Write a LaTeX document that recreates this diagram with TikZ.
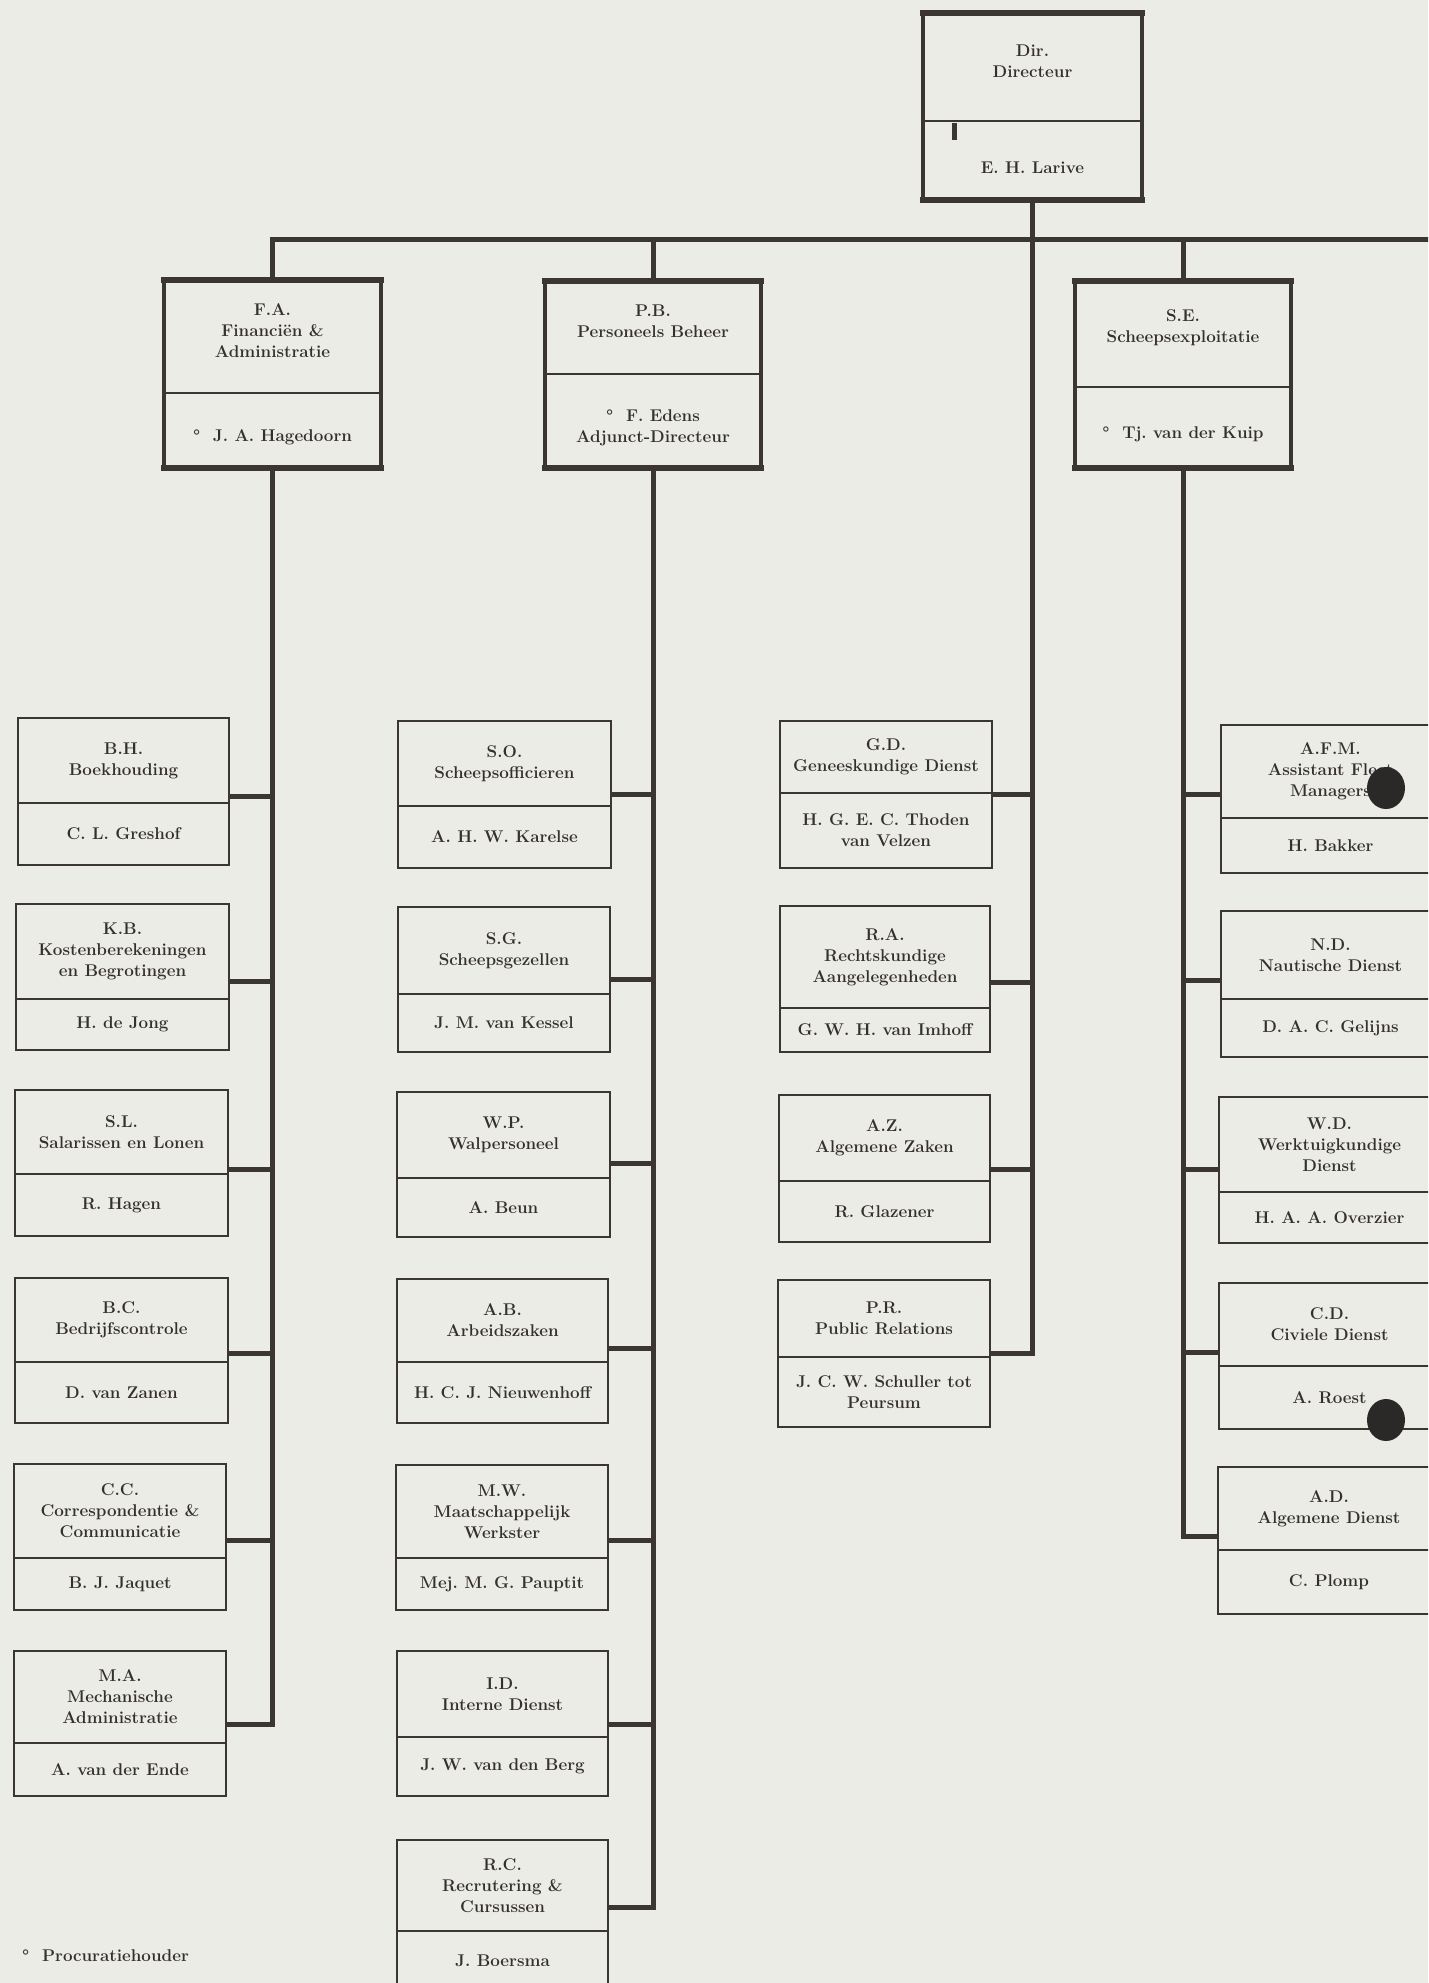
\documentclass[tikz,border=0pt]{standalone}
\usepackage{fontspec}
\usetikzlibrary{fit}
\frenchspacing
\definecolor{paper}{HTML}{ECECE7}
\definecolor{ink}{HTML}{3B3534}
\definecolor{txt}{HTML}{35302F}
\definecolor{hole}{HTML}{2B2828}
\tikzset{
 unitframe/.style={draw=ink, line width=2.6pt, inner sep=0pt, rectangle},
 headframe/.style={draw=ink, line width=4pt, inner sep=0pt, rectangle},
 headedge/.style={draw=ink, line width=6pt, line cap=rect},
 divider/.style={draw=ink, line width=2.2pt},
 trunk/.style={draw=ink, line width=5pt, line join=miter},
 boxtext/.style={text=txt, font=\fontsize{17}{21}\selectfont\bfseries, align=center, inner sep=0pt},
 headtop/.style={boxtext, yshift=6pt},
 headbot/.style={boxtext, yshift=-7pt},
}
% #1 name, #2 x1, #3 y1, #4 x2, #5 y2, #6 divider y, #7 upper text, #8 lower text
\newcommand{\unitbox}[8]{%
 \node[unitframe, fit={(#2,#3) (#4,#5)}] (#1) {};
 \draw[divider] (#2,#6) -- (#4,#6);
 \node[boxtext] (#1-t) at ({(#2+#4)/2},{(#3+#6)/2}) {#7};
 \node[boxtext] (#1-b) at ({(#2+#4)/2},{(#6+#5)/2}) {#8};
}
\newcommand{\headbox}[8]{%
 \node[headframe, fit={(#2,#3) (#4,#5)}] (#1) {};
 \draw[headedge] (#2,#3) -- (#4,#3);
 \draw[headedge] (#2,#5) -- (#4,#5);
 \draw[divider] (#2,#6) -- (#4,#6);
 \node[headtop] (#1-t) at ({(#2+#4)/2},{(#3+#6)/2}) {#7};
 \node[headbot] (#1-b) at ({(#2+#4)/2},{(#6+#5)/2}) {#8};
}
\begin{document}
\begin{tikzpicture}[x=1pt,y=-1pt]
\useasboundingbox (0,0) rectangle (1428,1983);
\fill[paper] (0,0) rectangle (1428,1983);
\clip (0,0) rectangle (1428,1983);

% top level
\headbox{dir}{923}{13}{1142}{200}{121}{Dir.\\Directeur}{E. H. Larive}
\fill[ink] (952,123) rectangle (957,140);
\headbox{fa}{164}{280}{381}{468}{393}{F.A.\\Financiën \&\\Administratie}{°~~J. A. Hagedoorn}
\headbox{pb}{545}{281}{761}{468}{374}{P.B.\\Personeels Beheer}{°~~F. Edens\\Adjunct-Directeur}
\headbox{se}{1075}{281}{1291}{468}{387}{S.E.\\Scheepsexploitatie}{°~~Tj. van der Kuip}

% F.A. column
\unitbox{bh}{18}{718}{229}{865}{803}{B.H.\\Boekhouding}{C. L. Greshof}
\unitbox{kb}{16}{904}{229}{1050}{999}{K.B.\\Kostenberekeningen\\en Begrotingen}{H. de Jong}
\unitbox{sl}{15}{1090}{228}{1236}{1174}{S.L.\\Salarissen en Lonen}{R. Hagen}
\unitbox{bc}{15}{1278}{228}{1423}{1362}{B.C.\\Bedrijfscontrole}{D. van Zanen}
\unitbox{cc}{14}{1464}{226}{1610}{1558}{C.C.\\Correspondentie \&\\Communicatie}{B. J. Jaquet}
\unitbox{ma}{14}{1651}{226}{1796}{1743}{M.A.\\Mechanische\\Administratie}{A. van der Ende}

% P.B. column
\unitbox{so}{398}{721}{611}{868}{806}{S.O.\\Scheepsofficieren}{A. H. W. Karelse}
\unitbox{sg}{398}{907}{610}{1052}{994}{S.G.\\Scheepsgezellen}{J. M. van Kessel}
\unitbox{wp}{397}{1092}{610}{1237}{1178}{W.P.\\Walpersoneel}{A. Beun}
\unitbox{ab}{397}{1279}{608}{1423}{1362}{A.B.\\Arbeidszaken}{H. C. J. Nieuwenhoff}
\unitbox{mw}{396}{1465}{608}{1610}{1558}{M.W.\\Maatschappelijk\\Werkster}{Mej. M. G. Pauptit}
\unitbox{id}{397}{1651}{608}{1796}{1737}{I.D.\\Interne Dienst}{J. W. van den Berg}
\unitbox{rc}{397}{1840}{608}{1991}{1931}{R.C.\\Recrutering \&\\Cursussen}{J. Boersma}

% staff column
\unitbox{gd}{780}{721}{992}{868}{793}{G.D.\\Geneeskundige Dienst}{H. G. E. C. Thoden\\van Velzen}
\unitbox{ra}{780}{906}{990}{1052}{1008}{R.A.\\Rechtskundige\\Aangelegenheden}{G. W. H. van Imhoff}
\unitbox{az}{779}{1095}{990}{1242}{1181}{A.Z.\\Algemene Zaken}{R. Glazener}
\unitbox{pr}{778}{1280}{990}{1427}{1357}{P.R.\\Public Relations}{J. C. W. Schuller tot\\Peursum}

% S.E. column
\unitbox{afm}{1221}{725}{1440}{873}{818}{A.F.M.\\Assistant Fleet\\Managers}{H. Bakker}
\unitbox{nd}{1221}{911}{1440}{1057}{999}{N.D.\\Nautische Dienst}{D. A. C. Gelijns}
\unitbox{wd}{1219}{1097}{1440}{1243}{1192}{W.D.\\Werktuigkundige\\Dienst}{H. A. A. Overzier}
\unitbox{cd}{1219}{1283}{1440}{1429}{1366}{C.D.\\Civiele Dienst}{A. Roest}
\unitbox{ad}{1218}{1467}{1440}{1614}{1550}{A.D.\\Algemene Dienst}{C. Plomp}

% connection points on the box sides
\foreach \n/\d in {bh/-5,kb/-4,sl/-6,bc/-3,cc/-3,ma/-1,so/0,sg/0,wp/1,ab/3,mw/-3,id/-1,rc/8,gd/0,ra/-3,az/-1,pr/0}
  \coordinate (\n-c) at ([yshift=\d pt]\n.east);
\foreach \n/\d in {afm/5,nd/4,wd/1,cd/4,ad/4}
  \coordinate (\n-c) at ([yshift=\d pt]\n.west);

% connectors
\coordinate (busend) at (1440,239);
\draw[trunk] (fa.north) |- (busend);
\draw[trunk] (pb.north) -- (pb.north |- busend);
\draw[trunk] (se.north) -- (se.north |- busend);
\draw[trunk] (dir.south) |- (pr-c);
\draw[trunk] (fa.south) |- (ma-c);
\foreach \n in {bh,kb,sl,bc,cc} \draw[trunk] (\n-c) -- (\n-c -| fa.south);
\draw[trunk] (pb.south) |- (rc-c);
\foreach \n in {so,sg,wp,ab,mw,id} \draw[trunk] (\n-c) -- (\n-c -| pb.south);
\foreach \n in {gd,ra,az} \draw[trunk] (\n-c) -- (\n-c -| dir.south);
\draw[trunk] (se.south) |- (ad-c);
\foreach \n in {afm,nd,wd,cd} \draw[trunk] (\n-c) -- (\n-c -| se.south);

% punch holes
\fill[hole] (1386,788) ellipse [x radius=19pt, y radius=21pt];
\fill[hole] (1386,1420) ellipse [x radius=19pt, y radius=21pt];

% legend
\node[boxtext, anchor=west] (legend) at (22,1956) {°~~Procuratiehouder};
\end{tikzpicture}
\end{document}
